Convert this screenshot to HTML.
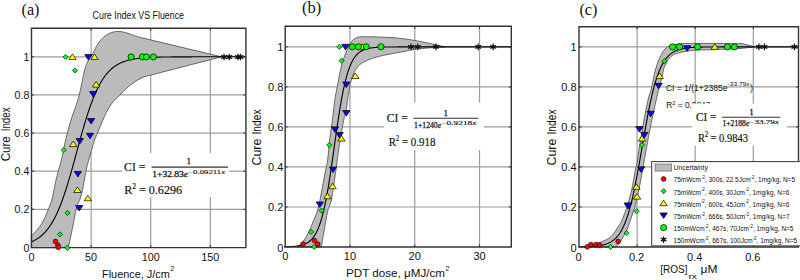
<!DOCTYPE html>
<html><head><meta charset="utf-8"><style>
html,body{margin:0;padding:0;background:#fff;overflow:hidden}
svg{display:block}
text{fill:#111}
</style></head><body>
<svg width="800" height="280" viewBox="0 0 800 280">
<rect width="800" height="280" fill="#fff"/>
<line x1="91.1" y1="28.3" x2="91.1" y2="247.6" stroke="#9c9c9c" stroke-width="1.2"/>
<line x1="150.7" y1="28.3" x2="150.7" y2="247.6" stroke="#9c9c9c" stroke-width="1.2"/>
<line x1="210.3" y1="28.3" x2="210.3" y2="247.6" stroke="#9c9c9c" stroke-width="1.2"/>
<line x1="31.5" y1="209.28" x2="245.9" y2="209.28" stroke="#9c9c9c" stroke-width="1.2"/>
<line x1="31.5" y1="171.16" x2="245.9" y2="171.16" stroke="#9c9c9c" stroke-width="1.2"/>
<line x1="31.5" y1="133.04" x2="245.9" y2="133.04" stroke="#9c9c9c" stroke-width="1.2"/>
<line x1="31.5" y1="94.92" x2="245.9" y2="94.92" stroke="#9c9c9c" stroke-width="1.2"/>
<line x1="31.5" y1="56.8" x2="245.9" y2="56.8" stroke="#9c9c9c" stroke-width="1.2"/>
<path d="M30.5,236.3 C30.9,235.97 31.8,235.35 32.9,234.3 C34,233.25 35.68,231.67 37.1,230 C38.52,228.33 39.97,226.68 41.4,224.3 C42.83,221.92 44.5,218.32 45.7,215.7 C46.9,213.08 47.65,210.98 48.6,208.6 C49.55,206.22 50.6,204.02 51.4,201.4 C52.2,198.78 52.68,196.23 53.4,192.9 C54.12,189.57 54.83,185.22 55.7,181.4 C56.57,177.58 57.65,173.57 58.6,170 C59.55,166.43 60.42,164.17 61.4,160 C62.38,155.83 63.48,149.58 64.5,145 C65.52,140.42 66.42,136.67 67.5,132.5 C68.58,128.33 69.83,123.75 71,120 C72.17,116.25 73.3,113.52 74.5,110 C75.7,106.48 77.03,103.07 78.2,98.9 C79.37,94.73 80.43,89.82 81.5,85 C82.57,80.18 83.43,74.17 84.6,70 C85.77,65.83 87.07,62.85 88.5,60 C89.93,57.15 91.88,55.17 93.2,52.9 C94.52,50.63 95.15,48.55 96.4,46.4 C97.65,44.25 99.08,41.87 100.7,40 C102.32,38.13 104.32,36.45 106.1,35.2 C107.88,33.95 109.43,33.13 111.4,32.5 C113.37,31.87 115.57,31.4 117.9,31.4 C120.23,31.4 122.9,31.87 125.4,32.5 C127.9,33.13 130.3,34.35 132.9,35.2 C135.5,36.05 139.65,37.2 141,37.6 L221.5,56.8 L150,75.3 C148.67,75.7 144.68,76.5 142,77.7 C139.32,78.9 136.58,80.63 133.9,82.5 C131.22,84.37 128.3,86.75 125.9,88.9 C123.5,91.05 121.65,93.25 119.5,95.4 C117.35,97.55 114.87,99.53 113,101.8 C111.13,104.07 109.78,106.43 108.3,109 C106.82,111.57 105.62,113.87 104.1,117.2 C102.58,120.53 100.78,125.2 99.2,129 C97.62,132.8 95.9,136.38 94.6,140 C93.3,143.62 92.65,146.42 91.4,150.7 C90.15,154.98 88.17,161.42 87.1,165.7 C86.03,169.98 85.7,172.68 85,176.4 C84.3,180.12 83.67,184.4 82.9,188 C82.13,191.6 81.42,194.83 80.4,198 C79.38,201.17 77.87,203.25 76.8,207 C75.73,210.75 74.93,215.95 74,220.5 C73.07,225.05 72.08,230.05 71.2,234.3 C70.32,238.55 69.18,243.67 68.7,246 C68.22,248.33 68.37,247.92 68.3,248.3 L30.5,248.3Z" fill="#bbbbbb"/>
<path d="M30.5,236.3 C30.9,235.97 31.8,235.35 32.9,234.3 C34,233.25 35.68,231.67 37.1,230 C38.52,228.33 39.97,226.68 41.4,224.3 C42.83,221.92 44.5,218.32 45.7,215.7 C46.9,213.08 47.65,210.98 48.6,208.6 C49.55,206.22 50.6,204.02 51.4,201.4 C52.2,198.78 52.68,196.23 53.4,192.9 C54.12,189.57 54.83,185.22 55.7,181.4 C56.57,177.58 57.65,173.57 58.6,170 C59.55,166.43 60.42,164.17 61.4,160 C62.38,155.83 63.48,149.58 64.5,145 C65.52,140.42 66.42,136.67 67.5,132.5 C68.58,128.33 69.83,123.75 71,120 C72.17,116.25 73.3,113.52 74.5,110 C75.7,106.48 77.03,103.07 78.2,98.9 C79.37,94.73 80.43,89.82 81.5,85 C82.57,80.18 83.43,74.17 84.6,70 C85.77,65.83 87.07,62.85 88.5,60 C89.93,57.15 91.88,55.17 93.2,52.9 C94.52,50.63 95.15,48.55 96.4,46.4 C97.65,44.25 99.08,41.87 100.7,40 C102.32,38.13 104.32,36.45 106.1,35.2 C107.88,33.95 109.43,33.13 111.4,32.5 C113.37,31.87 115.57,31.4 117.9,31.4 C120.23,31.4 122.9,31.87 125.4,32.5 C127.9,33.13 130.3,34.35 132.9,35.2 C135.5,36.05 139.65,37.2 141,37.6 L221.5,56.8 L150,75.3 C148.67,75.7 144.68,76.5 142,77.7 C139.32,78.9 136.58,80.63 133.9,82.5 C131.22,84.37 128.3,86.75 125.9,88.9 C123.5,91.05 121.65,93.25 119.5,95.4 C117.35,97.55 114.87,99.53 113,101.8 C111.13,104.07 109.78,106.43 108.3,109 C106.82,111.57 105.62,113.87 104.1,117.2 C102.58,120.53 100.78,125.2 99.2,129 C97.62,132.8 95.9,136.38 94.6,140 C93.3,143.62 92.65,146.42 91.4,150.7 C90.15,154.98 88.17,161.42 87.1,165.7 C86.03,169.98 85.7,172.68 85,176.4 C84.3,180.12 83.67,184.4 82.9,188 C82.13,191.6 81.42,194.83 80.4,198 C79.38,201.17 77.87,203.25 76.8,207 C75.73,210.75 74.93,215.95 74,220.5 C73.07,225.05 72.08,230.05 71.2,234.3 C70.32,238.55 69.18,243.67 68.7,246 C68.22,248.33 68.37,247.92 68.3,248.3" fill="none" stroke="#4a4a4a" stroke-width="0.8"/>
<path d="M31.5,241.77 L32.1,241.51 L32.69,241.24 L33.29,240.96 L33.88,240.67 L34.48,240.36 L35.08,240.04 L35.67,239.71 L36.27,239.36 L36.86,239 L37.46,238.62 L38.06,238.23 L38.65,237.82 L39.25,237.39 L39.84,236.94 L40.44,236.48 L41.04,236 L41.63,235.49 L42.23,234.97 L42.82,234.42 L43.42,233.85 L44.02,233.26 L44.61,232.65 L45.21,232.01 L45.8,231.34 L46.4,230.65 L47,229.94 L47.59,229.19 L48.19,228.42 L48.78,227.62 L49.38,226.79 L49.98,225.92 L50.57,225.03 L51.17,224.1 L51.76,223.15 L52.36,222.15 L52.96,221.13 L53.55,220.07 L54.15,218.97 L54.74,217.84 L55.34,216.67 L55.94,215.46 L56.53,214.22 L57.13,212.94 L57.72,211.62 L58.32,210.26 L58.92,208.87 L59.51,207.43 L60.11,205.96 L60.7,204.44 L61.3,202.89 L61.9,201.3 L62.49,199.67 L63.09,198.01 L63.68,196.3 L64.28,194.56 L64.88,192.79 L65.47,190.97 L66.07,189.13 L66.66,187.25 L67.26,185.34 L67.86,183.39 L68.45,181.42 L69.05,179.42 L69.64,177.39 L70.24,175.34 L70.84,173.27 L71.43,171.17 L72.03,169.05 L72.62,166.92 L73.22,164.77 L73.82,162.61 L74.41,160.44 L75.01,158.25 L75.6,156.07 L76.2,153.87 L76.8,151.68 L77.39,149.49 L77.99,147.29 L78.58,145.11 L79.18,142.93 L79.78,140.76 L80.37,138.6 L80.97,136.46 L81.56,134.33 L82.16,132.22 L82.76,130.14 L83.35,128.07 L83.95,126.03 L84.54,124.01 L85.14,122.02 L85.74,120.06 L86.33,118.13 L86.93,116.23 L87.52,114.36 L88.12,112.53 L88.72,110.73 L89.31,108.96 L89.91,107.24 L90.5,105.55 L91.1,103.9 L91.7,102.28 L92.29,100.71 L92.89,99.17 L93.48,97.67 L94.08,96.21 L94.68,94.79 L95.27,93.41 L95.87,92.07 L96.46,90.76 L97.06,89.5 L97.66,88.27 L98.25,87.08 L98.85,85.92 L99.44,84.8 L100.04,83.72 L100.64,82.67 L101.23,81.66 L101.83,80.68 L102.42,79.74 L103.02,78.82 L103.62,77.94 L104.21,77.09 L104.81,76.27 L105.4,75.48 L106,74.72 L106.6,73.99 L107.19,73.28 L107.79,72.6 L108.38,71.94 L108.98,71.31 L109.58,70.71 L110.17,70.13 L110.77,69.57 L111.36,69.03 L111.96,68.51 L112.56,68.02 L113.15,67.54 L113.75,67.08 L114.34,66.64 L114.94,66.22 L115.54,65.82 L116.13,65.43 L116.73,65.06 L117.32,64.7 L117.92,64.36 L118.52,64.03 L119.11,63.72 L119.71,63.42 L120.3,63.13 L120.9,62.86 L121.5,62.59 L122.09,62.34 L122.69,62.1 L123.28,61.86 L123.88,61.64 L124.48,61.43 L125.07,61.23 L125.67,61.03 L126.26,60.84 L126.86,60.67 L127.46,60.5 L128.05,60.33 L128.65,60.18 L129.24,60.03 L129.84,59.88 L130.44,59.75 L131.03,59.62 L131.63,59.49 L132.22,59.37 L132.82,59.26 L133.42,59.15 L134.01,59.04 L134.61,58.94 L135.2,58.85 L135.8,58.76 L136.4,58.67 L136.99,58.59 L137.59,58.51 L138.18,58.43 L138.78,58.36 L139.38,58.29 L139.97,58.22 L140.57,58.16 L141.16,58.1 L141.76,58.04 L142.36,57.98 L142.95,57.93 L143.55,57.88 L144.14,57.83 L144.74,57.79 L145.34,57.74 L145.93,57.7 L146.53,57.66 L147.12,57.62 L147.72,57.58 L148.32,57.55 L148.91,57.52 L149.51,57.48 L150.1,57.45 L150.7,57.42 L151.3,57.4 L151.89,57.37 L152.49,57.34 L153.08,57.32 L153.68,57.3 L154.28,57.27 L154.87,57.25 L155.47,57.23 L156.06,57.21 L156.66,57.19 L157.26,57.18 L157.85,57.16 L158.45,57.14 L159.04,57.13 L159.64,57.11 L160.24,57.1 L160.83,57.09 L161.43,57.07 L162.02,57.06 L162.62,57.05 L163.22,57.04 L163.81,57.03 L164.41,57.02 L165,57.01 L165.6,57 L166.2,56.99 L166.79,56.98 L167.39,56.97 L167.98,56.96 L168.58,56.96 L169.18,56.95 L169.77,56.94 L170.37,56.94 L170.96,56.93 L171.56,56.92 L172.16,56.92 L172.75,56.91 L173.35,56.91 L173.94,56.9 L174.54,56.9 L175.14,56.89 L175.73,56.89 L176.33,56.89 L176.92,56.88 L177.52,56.88 L178.12,56.88 L178.71,56.87 L179.31,56.87 L179.9,56.87 L180.5,56.86 L181.1,56.86 L181.69,56.86 L182.29,56.85 L182.88,56.85 L183.48,56.85 L184.08,56.85 L184.67,56.85 L185.27,56.84 L185.86,56.84 L186.46,56.84 L187.06,56.84 L187.65,56.84 L188.25,56.83 L188.84,56.83 L189.44,56.83 L190.04,56.83 L190.63,56.83 L191.23,56.83 L191.82,56.83 L192.42,56.82 L193.02,56.82 L193.61,56.82 L194.21,56.82 L194.8,56.82 L195.4,56.82 L196,56.82 L196.59,56.82 L197.19,56.82 L197.78,56.82 L198.38,56.82 L198.98,56.81 L199.57,56.81 L200.17,56.81 L200.76,56.81 L201.36,56.81 L201.96,56.81 L202.55,56.81 L203.15,56.81 L203.74,56.81 L204.34,56.81 L204.94,56.81 L205.53,56.81 L206.13,56.81 L206.72,56.81 L207.32,56.81 L207.92,56.81 L208.51,56.81 L209.11,56.81 L209.7,56.81 L210.3,56.81 L210.9,56.81 L211.49,56.81 L212.09,56.81 L212.68,56.81 L213.28,56.8 L213.88,56.8 L214.47,56.8 L215.07,56.8 L215.66,56.8 L216.26,56.8 L216.86,56.8 L217.45,56.8 L218.05,56.8 L218.64,56.8 L219.24,56.8 L219.84,56.8 L220.43,56.8 L221.03,56.8 L221.62,56.8 L222.22,56.8 L245.9,56.8" fill="none" stroke="#000" stroke-width="1.1"/>
<path d="M31.5,247.6 L31.5,28.3 L245.9,28.3 L245.9,247.6" fill="none" stroke="#333333" stroke-width="1.4"/>
<line x1="30.85" y1="247.6" x2="246.55" y2="247.6" stroke="#333333" stroke-width="1.3"/>
<line x1="91.1" y1="247.6" x2="91.1" y2="245.1" stroke="#333333" stroke-width="1"/>
<line x1="91.1" y1="28.3" x2="91.1" y2="30.8" stroke="#333333" stroke-width="1"/>
<line x1="150.7" y1="247.6" x2="150.7" y2="245.1" stroke="#333333" stroke-width="1"/>
<line x1="150.7" y1="28.3" x2="150.7" y2="30.8" stroke="#333333" stroke-width="1"/>
<line x1="210.3" y1="247.6" x2="210.3" y2="245.1" stroke="#333333" stroke-width="1"/>
<line x1="210.3" y1="28.3" x2="210.3" y2="30.8" stroke="#333333" stroke-width="1"/>
<line x1="31.5" y1="209.28" x2="34" y2="209.28" stroke="#333333" stroke-width="1"/>
<line x1="245.9" y1="209.28" x2="243.4" y2="209.28" stroke="#333333" stroke-width="1"/>
<line x1="31.5" y1="171.16" x2="34" y2="171.16" stroke="#333333" stroke-width="1"/>
<line x1="245.9" y1="171.16" x2="243.4" y2="171.16" stroke="#333333" stroke-width="1"/>
<line x1="31.5" y1="133.04" x2="34" y2="133.04" stroke="#333333" stroke-width="1"/>
<line x1="245.9" y1="133.04" x2="243.4" y2="133.04" stroke="#333333" stroke-width="1"/>
<line x1="31.5" y1="94.92" x2="34" y2="94.92" stroke="#333333" stroke-width="1"/>
<line x1="245.9" y1="94.92" x2="243.4" y2="94.92" stroke="#333333" stroke-width="1"/>
<line x1="31.5" y1="56.8" x2="34" y2="56.8" stroke="#333333" stroke-width="1"/>
<line x1="245.9" y1="56.8" x2="243.4" y2="56.8" stroke="#333333" stroke-width="1"/>
<rect x="122" y="153" width="107" height="44" fill="#fff"/>
<path d="M65.7,54.4 L68.3,57 L65.7,59.6 L63.1,57Z" fill="#00ff00" stroke="#000" stroke-width="0.6"/>
<path d="M72.5,53.9 L76.2,59.48 L68.8,59.48Z" fill="#ffff00" stroke="#000" stroke-width="0.7"/>
<path d="M88.4,60.1 L92.1,54.52 L84.7,54.52Z" fill="#0000ff" stroke="#000" stroke-width="0.7"/>
<path d="M94.6,53.9 L98.3,59.48 L90.9,59.48Z" fill="#ffff00" stroke="#000" stroke-width="0.7"/>
<path d="M75,67.8 L77.6,70.4 L75,73 L72.4,70.4Z" fill="#00ff00" stroke="#000" stroke-width="0.6"/>
<path d="M96.1,81.5 L99.8,87.08 L92.4,87.08Z" fill="#ffff00" stroke="#000" stroke-width="0.7"/>
<path d="M93.2,97.1 L96.9,91.52 L89.5,91.52Z" fill="#0000ff" stroke="#000" stroke-width="0.7"/>
<path d="M91.1,124.1 L94.8,118.52 L87.4,118.52Z" fill="#0000ff" stroke="#000" stroke-width="0.7"/>
<path d="M90,138.8 L93.7,133.22 L86.3,133.22Z" fill="#0000ff" stroke="#000" stroke-width="0.7"/>
<path d="M79.8,144.1 L83.5,138.52 L76.1,138.52Z" fill="#0000ff" stroke="#000" stroke-width="0.7"/>
<path d="M73.2,141 L76.9,146.58 L69.5,146.58Z" fill="#ffff00" stroke="#000" stroke-width="0.7"/>
<path d="M63.75,147.4 L66.35,150 L63.75,152.6 L61.15,150Z" fill="#00ff00" stroke="#000" stroke-width="0.6"/>
<path d="M77.9,177 L81.6,171.42 L74.2,171.42Z" fill="#0000ff" stroke="#000" stroke-width="0.7"/>
<path d="M77.4,186.9 L81.1,192.48 L73.7,192.48Z" fill="#ffff00" stroke="#000" stroke-width="0.7"/>
<path d="M87.9,195.2 L91.6,200.78 L84.2,200.78Z" fill="#ffff00" stroke="#000" stroke-width="0.7"/>
<path d="M79.25,211.1 L82.95,205.52 L75.55,205.52Z" fill="#0000ff" stroke="#000" stroke-width="0.7"/>
<path d="M67.5,210.4 L70.1,213 L67.5,215.6 L64.9,213Z" fill="#00ff00" stroke="#000" stroke-width="0.6"/>
<path d="M60,231.8 L62.6,234.4 L60,237 L57.4,234.4Z" fill="#00ff00" stroke="#000" stroke-width="0.6"/>
<circle cx="55.5" cy="241.5" r="2.4" fill="#ff0000" stroke="#000" stroke-width="0.6"/>
<circle cx="57.9" cy="245.1" r="2.4" fill="#ff0000" stroke="#000" stroke-width="0.6"/>
<circle cx="58.2" cy="247.3" r="2.4" fill="#ff0000" stroke="#000" stroke-width="0.6"/>
<path d="M67.4,245.2 L70,247.8 L67.4,250.4 L64.8,247.8Z" fill="#00ff00" stroke="#000" stroke-width="0.6"/>
<circle cx="131.1" cy="56.9" r="3.1" fill="#00ff00" stroke="#000" stroke-width="0.7"/>
<circle cx="142.4" cy="56.9" r="3.1" fill="#00ff00" stroke="#000" stroke-width="0.7"/>
<circle cx="146.4" cy="56.9" r="3.1" fill="#00ff00" stroke="#000" stroke-width="0.7"/>
<circle cx="153.4" cy="56.9" r="3.1" fill="#00ff00" stroke="#000" stroke-width="0.7"/>
<path d="M224,53.7 L224,60.3 M226.86,55.35 L221.14,58.65 M226.86,58.65 L221.14,55.35" stroke="#111" stroke-width="1.2" fill="none"/><circle cx="224" cy="57" r="1.7" fill="#111"/>
<path d="M229.3,53.7 L229.3,60.3 M232.16,55.35 L226.44,58.65 M232.16,58.65 L226.44,55.35" stroke="#111" stroke-width="1.2" fill="none"/><circle cx="229.3" cy="57" r="1.7" fill="#111"/>
<path d="M238,53.7 L238,60.3 M240.86,55.35 L235.14,58.65 M240.86,58.65 L235.14,55.35" stroke="#111" stroke-width="1.2" fill="none"/><circle cx="238" cy="57" r="1.7" fill="#111"/>
<path d="M240.5,53.7 L240.5,60.3 M243.36,55.35 L237.64,58.65 M243.36,58.65 L237.64,55.35" stroke="#111" stroke-width="1.2" fill="none"/><circle cx="240.5" cy="57" r="1.7" fill="#111"/>
<line x1="349.97" y1="26.3" x2="349.97" y2="247" stroke="#9c9c9c" stroke-width="1.2"/>
<line x1="414.74" y1="26.3" x2="414.74" y2="247" stroke="#9c9c9c" stroke-width="1.2"/>
<line x1="479.51" y1="26.3" x2="479.51" y2="247" stroke="#9c9c9c" stroke-width="1.2"/>
<line x1="285.2" y1="206.98" x2="511.3" y2="206.98" stroke="#9c9c9c" stroke-width="1.2"/>
<line x1="285.2" y1="166.96" x2="511.3" y2="166.96" stroke="#9c9c9c" stroke-width="1.2"/>
<line x1="285.2" y1="126.94" x2="511.3" y2="126.94" stroke="#9c9c9c" stroke-width="1.2"/>
<line x1="285.2" y1="86.92" x2="511.3" y2="86.92" stroke="#9c9c9c" stroke-width="1.2"/>
<line x1="285.2" y1="46.9" x2="511.3" y2="46.9" stroke="#9c9c9c" stroke-width="1.2"/>
<path d="M297,247 C297.83,246.33 300.23,245.12 302,243 C303.77,240.88 305.77,237.8 307.6,234.3 C309.43,230.8 311.27,226.22 313,222 C314.73,217.78 316.58,214 318,209 C319.42,204 320.42,197.5 321.5,192 C322.58,186.5 323.48,181.33 324.5,176 C325.52,170.67 326.75,166 327.6,160 C328.45,154 328.8,146.67 329.6,140 C330.4,133.33 331.53,126.67 332.4,120 C333.27,113.33 334,105.5 334.8,100 C335.6,94.5 336.42,91.17 337.2,87 C337.98,82.83 338.7,78.9 339.5,75 C340.3,71.1 340.85,67.52 342,63.6 C343.15,59.68 344.82,55.18 346.4,51.5 C347.98,47.82 349.58,43.88 351.5,41.5 C353.42,39.12 355.15,37.98 357.9,37.2 C360.65,36.42 364.32,36.82 368,36.8 C371.68,36.78 375.08,36.9 380,37.1 C384.92,37.3 391.67,37.43 397.5,38 C403.33,38.57 409.17,39.5 415,40.5 C420.83,41.5 429.58,43.42 432.5,44 L444.8,46.9 L432.5,47.6 C429.58,47.88 419.58,48.68 415,49.3 C410.42,49.92 408.33,50.67 405,51.3 C401.67,51.93 398.33,52.48 395,53.1 C391.67,53.72 388.33,54.27 385,55 C381.67,55.73 378.33,56.43 375,57.5 C371.67,58.57 367.73,60.03 365,61.4 C362.27,62.77 360.38,63.92 358.6,65.7 C356.82,67.48 355.55,69.6 354.3,72.1 C353.05,74.6 351.88,78.2 351.1,80.7 C350.32,83.2 350.13,84.23 349.6,87.1 C349.07,89.97 348.55,93.6 347.9,97.9 C347.25,102.2 346.47,108.88 345.7,112.9 C344.93,116.92 344.48,115.82 343.3,122 C342.12,128.18 339.75,142.55 338.6,150 C337.45,157.45 337.6,158.37 336.4,166.7 C335.2,175.03 332.88,192.45 331.4,200 C329.92,207.55 329.18,204.17 327.5,212 C325.82,219.83 322.33,241.17 321.3,247Z" fill="#bbbbbb" stroke="#4a4a4a" stroke-width="0.8"/>
<path d="M284.2,246.84 L284.52,246.83 L284.85,246.82 L285.17,246.81 L285.5,246.81 L285.82,246.8 L286.14,246.79 L286.47,246.78 L286.79,246.77 L287.11,246.76 L287.44,246.74 L287.76,246.73 L288.09,246.72 L288.41,246.71 L288.73,246.69 L289.06,246.68 L289.38,246.66 L289.71,246.65 L290.03,246.63 L290.35,246.61 L290.68,246.6 L291,246.58 L291.32,246.56 L291.65,246.54 L291.97,246.51 L292.3,246.49 L292.62,246.47 L292.94,246.44 L293.27,246.42 L293.59,246.39 L293.92,246.36 L294.24,246.33 L294.56,246.3 L294.89,246.26 L295.21,246.23 L295.53,246.19 L295.86,246.16 L296.18,246.12 L296.51,246.07 L296.83,246.03 L297.15,245.99 L297.48,245.94 L297.8,245.89 L298.13,245.84 L298.45,245.78 L298.77,245.72 L299.1,245.66 L299.42,245.6 L299.74,245.54 L300.07,245.47 L300.39,245.4 L300.72,245.32 L301.04,245.24 L301.36,245.16 L301.69,245.07 L302.01,244.98 L302.34,244.89 L302.66,244.79 L302.98,244.69 L303.31,244.58 L303.63,244.47 L303.95,244.35 L304.28,244.23 L304.6,244.1 L304.93,243.96 L305.25,243.82 L305.57,243.68 L305.9,243.52 L306.22,243.36 L306.55,243.19 L306.87,243.02 L307.19,242.83 L307.52,242.64 L307.84,242.44 L308.16,242.23 L308.49,242.01 L308.81,241.78 L309.14,241.54 L309.46,241.29 L309.78,241.03 L310.11,240.76 L310.43,240.47 L310.76,240.17 L311.08,239.86 L311.4,239.54 L311.73,239.2 L312.05,238.85 L312.37,238.48 L312.7,238.1 L313.02,237.7 L313.35,237.28 L313.67,236.84 L313.99,236.39 L314.32,235.92 L314.64,235.43 L314.97,234.91 L315.29,234.38 L315.61,233.82 L315.94,233.24 L316.26,232.64 L316.58,232.01 L316.91,231.36 L317.23,230.69 L317.56,229.98 L317.88,229.25 L318.2,228.49 L318.53,227.7 L318.85,226.88 L319.18,226.03 L319.5,225.15 L319.82,224.24 L320.15,223.29 L320.47,222.31 L320.8,221.3 L321.12,220.25 L321.44,219.16 L321.77,218.04 L322.09,216.88 L322.41,215.68 L322.74,214.44 L323.06,213.16 L323.39,211.85 L323.71,210.49 L324.03,209.1 L324.36,207.66 L324.68,206.18 L325.01,204.67 L325.33,203.11 L325.65,201.51 L325.98,199.87 L326.3,198.19 L326.62,196.47 L326.95,194.7 L327.27,192.9 L327.6,191.07 L327.92,189.19 L328.24,187.28 L328.57,185.33 L328.89,183.35 L329.22,181.33 L329.54,179.28 L329.86,177.2 L330.19,175.09 L330.51,172.95 L330.83,170.79 L331.16,168.6 L331.48,166.4 L331.81,164.17 L332.13,161.92 L332.45,159.66 L332.78,157.39 L333.1,155.1 L333.43,152.81 L333.75,150.51 L334.07,148.2 L334.4,145.9 L334.72,143.59 L335.04,141.29 L335.37,139 L335.69,136.71 L336.02,134.43 L336.34,132.17 L336.66,129.92 L336.99,127.69 L337.31,125.48 L337.64,123.29 L337.96,121.13 L338.28,118.99 L338.61,116.88 L338.93,114.8 L339.25,112.75 L339.58,110.73 L339.9,108.74 L340.23,106.79 L340.55,104.87 L340.87,102.99 L341.2,101.15 L341.52,99.35 L341.85,97.58 L342.17,95.86 L342.49,94.17 L342.82,92.53 L343.14,90.93 L343.46,89.36 L343.79,87.84 L344.11,86.36 L344.44,84.92 L344.76,83.52 L345.08,82.17 L345.41,80.85 L345.73,79.57 L346.06,78.33 L346.38,77.12 L346.7,75.96 L347.03,74.83 L347.35,73.75 L347.67,72.69 L348,71.67 L348.32,70.69 L348.65,69.74 L348.97,68.83 L349.29,67.94 L349.62,67.09 L349.94,66.27 L350.27,65.48 L350.59,64.71 L350.91,63.98 L351.24,63.27 L351.56,62.59 L351.88,61.94 L352.21,61.31 L352.53,60.71 L352.86,60.13 L353.18,59.57 L353.5,59.03 L353.83,58.52 L354.15,58.02 L354.48,57.55 L354.8,57.09 L355.12,56.66 L355.45,56.24 L355.77,55.84 L356.09,55.45 L356.42,55.08 L356.74,54.73 L357.07,54.39 L357.39,54.06 L357.71,53.75 L358.04,53.45 L358.36,53.17 L358.69,52.89 L359.01,52.63 L359.33,52.38 L359.66,52.14 L359.98,51.91 L360.3,51.69 L360.63,51.48 L360.95,51.28 L361.28,51.08 L361.6,50.9 L361.92,50.72 L362.25,50.55 L362.57,50.39 L362.9,50.24 L363.22,50.09 L363.54,49.95 L363.87,49.81 L364.19,49.68 L364.51,49.56 L364.84,49.44 L365.16,49.33 L365.49,49.22 L365.81,49.12 L366.13,49.02 L366.46,48.92 L366.78,48.83 L367.11,48.75 L367.43,48.66 L367.75,48.59 L368.08,48.51 L368.4,48.44 L368.72,48.37 L369.05,48.3 L369.37,48.24 L369.7,48.18 L370.02,48.12 L370.34,48.07 L370.67,48.02 L370.99,47.97 L371.32,47.92 L371.64,47.87 L371.96,47.83 L372.29,47.79 L372.61,47.75 L372.93,47.71 L373.26,47.67 L373.58,47.64 L373.91,47.61 L374.23,47.57 L374.55,47.54 L374.88,47.51 L375.2,47.49 L375.53,47.46 L375.85,47.44 L376.17,47.41 L376.5,47.39 L376.82,47.37 L377.14,47.35 L377.47,47.33 L377.79,47.31 L378.12,47.29 L378.44,47.27 L378.76,47.25 L379.09,47.24 L379.41,47.22 L379.74,47.21 L380.06,47.19 L380.38,47.18 L380.71,47.17 L381.03,47.16 L381.36,47.14 L381.68,47.13 L382,47.12 L382.33,47.11 L382.65,47.1 L382.97,47.09 L383.3,47.09 L383.62,47.08 L383.95,47.07 L384.27,47.06 L384.59,47.05 L384.92,47.05 L385.24,47.04 L385.57,47.03 L385.89,47.03 L386.21,47.02 L386.54,47.02 L386.86,47.01 L387.18,47.01 L387.51,47 L387.83,47 L388.16,46.99 L388.48,46.99 L388.8,46.98 L389.13,46.98 L389.45,46.98 L389.78,46.97 L390.1,46.97 L390.42,46.97 L390.75,46.96 L391.07,46.96 L391.39,46.96 L391.72,46.96 L392.04,46.95 L392.37,46.95 L392.69,46.95 L393.01,46.95 L393.34,46.94 L393.66,46.94 L393.99,46.94 L394.31,46.94 L394.63,46.94 L394.96,46.94 L395.28,46.93 L395.6,46.93 L395.93,46.93 L396.25,46.93 L396.58,46.93 L396.9,46.93 L397.22,46.93 L397.55,46.92 L397.87,46.92 L398.2,46.92 L398.52,46.92 L398.84,46.92 L399.17,46.92 L399.49,46.92 L399.81,46.92 L400.14,46.92 L400.46,46.92 L400.79,46.92 L401.11,46.91 L401.43,46.91 L401.76,46.91 L402.08,46.91 L402.41,46.91 L402.73,46.91 L403.05,46.91 L403.38,46.91 L403.7,46.91 L404.02,46.91 L404.35,46.91 L404.67,46.91 L405,46.91 L405.32,46.91 L405.64,46.91 L405.97,46.91 L406.29,46.91 L406.62,46.91 L406.94,46.91 L407.26,46.91 L407.59,46.91 L407.91,46.91 L408.23,46.91 L408.56,46.91 L408.88,46.9 L409.21,46.9 L409.53,46.9 L409.85,46.9 L410.18,46.9 L410.5,46.9 L410.83,46.9 L411.15,46.9 L411.47,46.9 L411.8,46.9 L412.12,46.9 L412.44,46.9 L412.77,46.9 L413.09,46.9 L413.42,46.9 L413.74,46.9 L414.06,46.9 L414.39,46.9 L414.71,46.9 L415.04,46.9 L415.36,46.9 L415.68,46.9 L416.01,46.9 L416.33,46.9 L416.65,46.9 L416.98,46.9 L417.3,46.9 L417.63,46.9 L417.95,46.9 L418.27,46.9 L418.6,46.9 L418.92,46.9 L419.25,46.9 L419.57,46.9 L419.89,46.9 L420.22,46.9 L420.54,46.9 L420.86,46.9 L421.19,46.9 L421.51,46.9 L421.84,46.9 L422.16,46.9 L422.48,46.9 L422.81,46.9 L423.13,46.9 L423.46,46.9 L423.78,46.9 L424.1,46.9 L424.43,46.9 L424.75,46.9 L425.07,46.9 L425.4,46.9 L425.72,46.9 L426.05,46.9 L426.37,46.9 L426.69,46.9 L427.02,46.9 L427.34,46.9 L427.67,46.9 L427.99,46.9 L428.31,46.9 L428.64,46.9 L428.96,46.9 L429.28,46.9 L429.61,46.9 L429.93,46.9 L430.26,46.9 L430.58,46.9 L430.9,46.9 L431.23,46.9 L431.55,46.9 L431.88,46.9 L432.2,46.9 L432.52,46.9 L432.85,46.9 L433.17,46.9 L433.49,46.9 L433.82,46.9 L434.14,46.9 L434.47,46.9 L434.79,46.9 L435.11,46.9 L435.44,46.9 L435.76,46.9 L436.09,46.9 L436.41,46.9 L436.73,46.9 L437.06,46.9 L437.38,46.9 L437.7,46.9 L438.03,46.9 L438.35,46.9 L438.68,46.9 L439,46.9 L439.32,46.9 L511.3,46.9" fill="none" stroke="#000" stroke-width="1.1"/>
<path d="M285.2,247 L285.2,26.3 L511.3,26.3 L511.3,247" fill="none" stroke="#333333" stroke-width="1.4"/>
<line x1="284.55" y1="247" x2="511.95" y2="247" stroke="#333333" stroke-width="1.3"/>
<line x1="349.97" y1="247" x2="349.97" y2="244.5" stroke="#333333" stroke-width="1"/>
<line x1="349.97" y1="26.3" x2="349.97" y2="28.8" stroke="#333333" stroke-width="1"/>
<line x1="414.74" y1="247" x2="414.74" y2="244.5" stroke="#333333" stroke-width="1"/>
<line x1="414.74" y1="26.3" x2="414.74" y2="28.8" stroke="#333333" stroke-width="1"/>
<line x1="479.51" y1="247" x2="479.51" y2="244.5" stroke="#333333" stroke-width="1"/>
<line x1="479.51" y1="26.3" x2="479.51" y2="28.8" stroke="#333333" stroke-width="1"/>
<line x1="285.2" y1="206.98" x2="287.7" y2="206.98" stroke="#333333" stroke-width="1"/>
<line x1="511.3" y1="206.98" x2="508.8" y2="206.98" stroke="#333333" stroke-width="1"/>
<line x1="285.2" y1="166.96" x2="287.7" y2="166.96" stroke="#333333" stroke-width="1"/>
<line x1="511.3" y1="166.96" x2="508.8" y2="166.96" stroke="#333333" stroke-width="1"/>
<line x1="285.2" y1="126.94" x2="287.7" y2="126.94" stroke="#333333" stroke-width="1"/>
<line x1="511.3" y1="126.94" x2="508.8" y2="126.94" stroke="#333333" stroke-width="1"/>
<line x1="285.2" y1="86.92" x2="287.7" y2="86.92" stroke="#333333" stroke-width="1"/>
<line x1="511.3" y1="86.92" x2="508.8" y2="86.92" stroke="#333333" stroke-width="1"/>
<line x1="285.2" y1="46.9" x2="287.7" y2="46.9" stroke="#333333" stroke-width="1"/>
<line x1="511.3" y1="46.9" x2="508.8" y2="46.9" stroke="#333333" stroke-width="1"/>
<rect x="384" y="102.5" width="100" height="47.5" fill="#fff"/>
<path d="M339.4,44.2 L342,46.8 L339.4,49.4 L336.8,46.8Z" fill="#00ff00" stroke="#000" stroke-width="0.6"/>
<path d="M345.5,49.9 L349.2,44.32 L341.8,44.32Z" fill="#0000ff" stroke="#000" stroke-width="0.7"/>
<path d="M362.2,43.7 L365.9,49.28 L358.5,49.28Z" fill="#ffff00" stroke="#000" stroke-width="0.7"/>
<circle cx="352.3" cy="46.8" r="3.1" fill="#00ff00" stroke="#000" stroke-width="0.7"/>
<circle cx="358.4" cy="46.8" r="3.1" fill="#00ff00" stroke="#000" stroke-width="0.7"/>
<circle cx="366.2" cy="46.8" r="3.1" fill="#00ff00" stroke="#000" stroke-width="0.7"/>
<circle cx="380.9" cy="46.8" r="3.1" fill="#00ff00" stroke="#000" stroke-width="0.7"/>
<path d="M411,43.6 L411,50.2 M413.86,45.25 L408.14,48.55 M413.86,48.55 L408.14,45.25" stroke="#111" stroke-width="1.2" fill="none"/><circle cx="411" cy="46.9" r="1.7" fill="#111"/>
<path d="M417.7,43.6 L417.7,50.2 M420.56,45.25 L414.84,48.55 M420.56,48.55 L414.84,45.25" stroke="#111" stroke-width="1.2" fill="none"/><circle cx="417.7" cy="46.9" r="1.7" fill="#111"/>
<path d="M435.9,43.6 L435.9,50.2 M438.76,45.25 L433.04,48.55 M438.76,48.55 L433.04,45.25" stroke="#111" stroke-width="1.2" fill="none"/><circle cx="435.9" cy="46.9" r="1.7" fill="#111"/>
<path d="M478.2,43.6 L478.2,50.2 M481.06,45.25 L475.34,48.55 M481.06,48.55 L475.34,45.25" stroke="#111" stroke-width="1.2" fill="none"/><circle cx="478.2" cy="46.9" r="1.7" fill="#111"/>
<path d="M493.2,43.6 L493.2,50.2 M496.06,45.25 L490.34,48.55 M496.06,48.55 L490.34,45.25" stroke="#111" stroke-width="1.2" fill="none"/><circle cx="493.2" cy="46.9" r="1.7" fill="#111"/>
<path d="M341.6,58.1 L344.2,60.7 L341.6,63.3 L339,60.7Z" fill="#00ff00" stroke="#000" stroke-width="0.6"/>
<path d="M355.3,72.9 L359,78.48 L351.6,78.48Z" fill="#ffff00" stroke="#000" stroke-width="0.7"/>
<path d="M346.3,87.6 L350,82.02 L342.6,82.02Z" fill="#0000ff" stroke="#000" stroke-width="0.7"/>
<path d="M346.3,116.1 L350,110.52 L342.6,110.52Z" fill="#0000ff" stroke="#000" stroke-width="0.7"/>
<path d="M335,132.4 L338.7,126.82 L331.3,126.82Z" fill="#0000ff" stroke="#000" stroke-width="0.7"/>
<path d="M339.6,138.1 L343.3,132.52 L335.9,132.52Z" fill="#0000ff" stroke="#000" stroke-width="0.7"/>
<path d="M341.4,135.5 L345.1,141.08 L337.7,141.08Z" fill="#ffff00" stroke="#000" stroke-width="0.7"/>
<path d="M329.3,142.4 L331.9,145 L329.3,147.6 L326.7,145Z" fill="#00ff00" stroke="#000" stroke-width="0.6"/>
<path d="M333,172.6 L336.7,167.02 L329.3,167.02Z" fill="#0000ff" stroke="#000" stroke-width="0.7"/>
<path d="M332.5,183.15 L336.2,188.73 L328.8,188.73Z" fill="#ffff00" stroke="#000" stroke-width="0.7"/>
<path d="M327.5,193.15 L331.2,198.73 L323.8,198.73Z" fill="#ffff00" stroke="#000" stroke-width="0.7"/>
<path d="M319.8,207.5 L323.5,201.92 L316.1,201.92Z" fill="#0000ff" stroke="#000" stroke-width="0.7"/>
<path d="M321.6,208 L324.2,210.6 L321.6,213.2 L319,210.6Z" fill="#00ff00" stroke="#000" stroke-width="0.6"/>
<path d="M311.1,229.3 L313.7,231.9 L311.1,234.5 L308.5,231.9Z" fill="#00ff00" stroke="#000" stroke-width="0.6"/>
<circle cx="303" cy="244.1" r="2.4" fill="#ff0000" stroke="#000" stroke-width="0.6"/>
<circle cx="314.5" cy="240.6" r="2.4" fill="#ff0000" stroke="#000" stroke-width="0.6"/>
<circle cx="317.8" cy="244.1" r="2.4" fill="#ff0000" stroke="#000" stroke-width="0.6"/>
<path d="M314.1,244.4 L316.7,247 L314.1,249.6 L311.5,247Z" fill="#00ff00" stroke="#000" stroke-width="0.6"/>
<line x1="637.1" y1="26.7" x2="637.1" y2="247" stroke="#9c9c9c" stroke-width="1.2"/>
<line x1="695.2" y1="26.7" x2="695.2" y2="247" stroke="#9c9c9c" stroke-width="1.2"/>
<line x1="753.3" y1="26.7" x2="753.3" y2="247" stroke="#9c9c9c" stroke-width="1.2"/>
<line x1="579" y1="206.98" x2="798.5" y2="206.98" stroke="#9c9c9c" stroke-width="1.2"/>
<line x1="579" y1="166.96" x2="798.5" y2="166.96" stroke="#9c9c9c" stroke-width="1.2"/>
<line x1="579" y1="126.94" x2="798.5" y2="126.94" stroke="#9c9c9c" stroke-width="1.2"/>
<line x1="579" y1="86.92" x2="798.5" y2="86.92" stroke="#9c9c9c" stroke-width="1.2"/>
<line x1="579" y1="46.9" x2="798.5" y2="46.9" stroke="#9c9c9c" stroke-width="1.2"/>
<path d="M584,247 C585.17,246.8 588.83,246.37 591,245.8 C593.17,245.23 595,244.37 597,243.6 C599,242.83 601.07,242.07 603,241.2 C604.93,240.33 606.93,239.52 608.6,238.4 C610.27,237.28 611.6,236.13 613,234.5 C614.4,232.87 615.6,230.77 617,228.6 C618.4,226.43 619.92,224.6 621.4,221.5 C622.88,218.4 624.58,213.75 625.9,210 C627.22,206.25 628.2,203 629.3,199 C630.4,195 631.55,190.5 632.5,186 C633.45,181.5 634.17,176.33 635,172 C635.83,167.67 636.58,165.33 637.5,160 C638.42,154.67 639.42,146.67 640.5,140 C641.58,133.33 642.75,126.67 644,120 C645.25,113.33 646.75,105.33 648,100 C649.25,94.67 650.27,93 651.5,88 C652.73,83 653.87,75.38 655.4,70 C656.93,64.62 658.77,59.45 660.7,55.7 C662.63,51.95 664.13,49.47 667,47.5 C669.87,45.53 672.4,44.58 677.9,43.9 C683.4,43.22 689.32,43.45 700,43.4 C710.68,43.35 735,43.57 742,43.6 L755,46.9 L740,48.5 C735,48.72 717.85,49.48 710,49.8 C702.15,50.12 698.97,49.6 692.9,50.4 C686.83,51.2 678.25,52.1 673.6,54.6 C668.95,57.1 666.97,61.5 665,65.4 C663.03,69.3 662.88,73.9 661.8,78 C660.72,82.1 659.8,84.67 658.5,90 C657.2,95.33 655.45,103.33 654,110 C652.55,116.67 651.27,122.5 649.8,130 C648.33,137.5 646.42,148.33 645.2,155 C643.98,161.67 643.4,165 642.5,170 C641.6,175 640.78,180 639.8,185 C638.82,190 637.58,195.83 636.6,200 C635.62,204.17 634.93,206.67 633.9,210 C632.87,213.33 631.57,216.67 630.4,220 C629.23,223.33 628.02,227.33 626.9,230 C625.78,232.67 624.77,234.08 623.7,236 C622.63,237.92 621.58,239.88 620.5,241.5 C619.42,243.12 618.03,244.78 617.2,245.7 C616.37,246.62 615.78,246.78 615.5,247Z" fill="#bbbbbb" stroke="#4a4a4a" stroke-width="0.8"/>
<path d="M579.49,246.86 L580.07,246.85 L580.65,246.84 L581.23,246.83 L581.81,246.82 L582.39,246.81 L582.97,246.79 L583.55,246.78 L584.13,246.76 L584.72,246.75 L585.3,246.73 L585.88,246.71 L586.46,246.69 L587.04,246.67 L587.62,246.65 L588.2,246.62 L588.78,246.6 L589.36,246.57 L589.94,246.54 L590.52,246.51 L591.11,246.47 L591.69,246.43 L592.27,246.4 L592.85,246.35 L593.43,246.31 L594.01,246.26 L594.59,246.21 L595.17,246.15 L595.75,246.09 L596.34,246.03 L596.92,245.96 L597.5,245.89 L598.08,245.81 L598.66,245.73 L599.24,245.64 L599.82,245.55 L600.4,245.45 L600.98,245.34 L601.56,245.23 L602.14,245.1 L602.73,244.97 L603.31,244.83 L603.89,244.68 L604.47,244.52 L605.05,244.35 L605.63,244.17 L606.21,243.97 L606.79,243.77 L607.37,243.54 L607.96,243.31 L608.54,243.05 L609.12,242.78 L609.7,242.5 L610.28,242.19 L610.86,241.86 L611.44,241.51 L612.02,241.14 L612.6,240.74 L613.18,240.32 L613.76,239.87 L614.35,239.39 L614.93,238.88 L615.51,238.34 L616.09,237.76 L616.67,237.14 L617.25,236.49 L617.83,235.8 L618.41,235.06 L618.99,234.28 L619.58,233.45 L620.16,232.57 L620.74,231.64 L621.32,230.65 L621.9,229.61 L622.48,228.51 L623.06,227.34 L623.64,226.11 L624.22,224.81 L624.8,223.44 L625.38,222 L625.97,220.48 L626.55,218.89 L627.13,217.22 L627.71,215.46 L628.29,213.63 L628.87,211.7 L629.45,209.7 L630.03,207.6 L630.61,205.42 L631.2,203.15 L631.78,200.79 L632.36,198.35 L632.94,195.81 L633.52,193.2 L634.1,190.5 L634.68,187.72 L635.26,184.86 L635.84,181.93 L636.42,178.93 L637,175.86 L637.59,172.73 L638.17,169.55 L638.75,166.32 L639.33,163.04 L639.91,159.73 L640.49,156.39 L641.07,153.03 L641.65,149.66 L642.23,146.28 L642.82,142.9 L643.4,139.53 L643.98,136.18 L644.56,132.85 L645.14,129.56 L645.72,126.3 L646.3,123.08 L646.88,119.92 L647.46,116.82 L648.04,113.78 L648.62,110.8 L649.21,107.9 L649.79,105.07 L650.37,102.32 L650.95,99.66 L651.53,97.07 L652.11,94.58 L652.69,92.17 L653.27,89.84 L653.85,87.61 L654.44,85.46 L655.02,83.4 L655.6,81.43 L656.18,79.54 L656.76,77.73 L657.34,76.01 L657.92,74.37 L658.5,72.81 L659.08,71.32 L659.66,69.91 L660.25,68.57 L660.83,67.3 L661.41,66.09 L661.99,64.95 L662.57,63.87 L663.15,62.85 L663.73,61.89 L664.31,60.98 L664.89,60.12 L665.47,59.31 L666.06,58.54 L666.64,57.82 L667.22,57.15 L667.8,56.51 L668.38,55.91 L668.96,55.35 L669.54,54.82 L670.12,54.32 L670.7,53.85 L671.28,53.41 L671.87,53 L672.45,52.61 L673.03,52.25 L673.61,51.91 L674.19,51.59 L674.77,51.29 L675.35,51.01 L675.93,50.74 L676.51,50.5 L677.09,50.27 L677.68,50.05 L678.26,49.85 L678.84,49.66 L679.42,49.48 L680,49.31 L680.58,49.16 L681.16,49.01 L681.74,48.87 L682.32,48.75 L682.9,48.63 L683.49,48.51 L684.07,48.41 L684.65,48.31 L685.23,48.22 L685.81,48.13 L686.39,48.05 L686.97,47.98 L687.55,47.91 L688.13,47.84 L688.71,47.78 L689.3,47.72 L689.88,47.67 L690.46,47.62 L691.04,47.57 L691.62,47.53 L692.2,47.49 L692.78,47.45 L693.36,47.41 L693.94,47.38 L694.52,47.35 L695.11,47.32 L695.69,47.29 L696.27,47.27 L696.85,47.24 L697.43,47.22 L698.01,47.2 L698.59,47.18 L699.17,47.16 L699.75,47.15 L700.33,47.13 L700.92,47.11 L701.5,47.1 L702.08,47.09 L702.66,47.07 L703.24,47.06 L703.82,47.05 L704.4,47.04 L704.98,47.03 L705.56,47.02 L706.14,47.02 L706.73,47.01 L707.31,47 L707.89,47 L708.47,46.99 L709.05,46.98 L709.63,46.98 L710.21,46.97 L710.79,46.97 L711.37,46.96 L711.95,46.96 L712.54,46.96 L713.12,46.95 L713.7,46.95 L714.28,46.95 L714.86,46.94 L715.44,46.94 L716.02,46.94 L716.6,46.93 L717.18,46.93 L717.76,46.93 L718.35,46.93 L718.93,46.93 L719.51,46.92 L720.09,46.92 L720.67,46.92 L721.25,46.92 L721.83,46.92 L722.41,46.92 L722.99,46.92 L723.57,46.92 L724.16,46.91 L724.74,46.91 L725.32,46.91 L725.9,46.91 L726.48,46.91 L727.06,46.91 L727.64,46.91 L728.22,46.91 L728.8,46.91 L729.38,46.91 L729.97,46.91 L730.55,46.91 L731.13,46.91 L731.71,46.91 L732.29,46.91 L732.87,46.91 L733.45,46.9 L734.03,46.9 L734.61,46.9 L735.19,46.9 L735.78,46.9 L736.36,46.9 L736.94,46.9 L737.52,46.9 L738.1,46.9 L738.68,46.9 L739.26,46.9 L739.84,46.9 L740.42,46.9 L741,46.9 L741.59,46.9 L742.17,46.9 L742.75,46.9 L743.33,46.9 L743.91,46.9 L744.49,46.9 L745.07,46.9 L745.65,46.9 L746.23,46.9 L746.81,46.9 L747.4,46.9 L747.98,46.9 L748.56,46.9 L749.14,46.9 L749.72,46.9 L750.3,46.9 L750.88,46.9 L751.46,46.9 L752.04,46.9 L752.62,46.9 L753.21,46.9 L753.79,46.9 L754.37,46.9 L754.95,46.9 L755.53,46.9 L798.5,46.9" fill="none" stroke="#000" stroke-width="1.1"/>
<path d="M579,247 L579,26.7 L798.5,26.7 L798.5,161" fill="none" stroke="#333333" stroke-width="1.4"/>
<line x1="578.35" y1="247" x2="799.15" y2="247" stroke="#333333" stroke-width="1.3"/>
<line x1="637.1" y1="247" x2="637.1" y2="244.5" stroke="#333333" stroke-width="1"/>
<line x1="637.1" y1="26.7" x2="637.1" y2="29.2" stroke="#333333" stroke-width="1"/>
<line x1="695.2" y1="247" x2="695.2" y2="244.5" stroke="#333333" stroke-width="1"/>
<line x1="695.2" y1="26.7" x2="695.2" y2="29.2" stroke="#333333" stroke-width="1"/>
<line x1="753.3" y1="247" x2="753.3" y2="244.5" stroke="#333333" stroke-width="1"/>
<line x1="753.3" y1="26.7" x2="753.3" y2="29.2" stroke="#333333" stroke-width="1"/>
<line x1="579" y1="206.98" x2="581.5" y2="206.98" stroke="#333333" stroke-width="1"/>
<line x1="579" y1="166.96" x2="581.5" y2="166.96" stroke="#333333" stroke-width="1"/>
<line x1="579" y1="126.94" x2="581.5" y2="126.94" stroke="#333333" stroke-width="1"/>
<line x1="798.5" y1="126.94" x2="796" y2="126.94" stroke="#333333" stroke-width="1"/>
<line x1="579" y1="86.92" x2="581.5" y2="86.92" stroke="#333333" stroke-width="1"/>
<line x1="798.5" y1="86.92" x2="796" y2="86.92" stroke="#333333" stroke-width="1"/>
<line x1="579" y1="46.9" x2="581.5" y2="46.9" stroke="#333333" stroke-width="1"/>
<line x1="798.5" y1="46.9" x2="796" y2="46.9" stroke="#333333" stroke-width="1"/>
<circle cx="672.6" cy="46.9" r="3.1" fill="#00ff00" stroke="#000" stroke-width="0.7"/>
<circle cx="679.6" cy="46.9" r="3.1" fill="#00ff00" stroke="#000" stroke-width="0.7"/>
<path d="M687.1,51.3 L690.8,45.72 L683.4,45.72Z" fill="#0000ff" stroke="#000" stroke-width="0.7"/>
<circle cx="697.6" cy="46.9" r="3.1" fill="#00ff00" stroke="#000" stroke-width="0.7"/>
<path d="M714.8,43.8 L718.5,49.38 L711.1,49.38Z" fill="#ffff00" stroke="#000" stroke-width="0.7"/>
<circle cx="727.4" cy="46.9" r="3.1" fill="#00ff00" stroke="#000" stroke-width="0.7"/>
<circle cx="734.4" cy="46.9" r="3.1" fill="#00ff00" stroke="#000" stroke-width="0.7"/>
<path d="M758.9,43.6 L758.9,50.2 M761.76,45.25 L756.04,48.55 M761.76,48.55 L756.04,45.25" stroke="#111" stroke-width="1.2" fill="none"/><circle cx="758.9" cy="46.9" r="1.7" fill="#111"/>
<path d="M764.5,43.6 L764.5,50.2 M767.36,45.25 L761.64,48.55 M767.36,48.55 L761.64,45.25" stroke="#111" stroke-width="1.2" fill="none"/><circle cx="764.5" cy="46.9" r="1.7" fill="#111"/>
<path d="M794.4,43.6 L794.4,50.2 M797.26,45.25 L791.54,48.55 M797.26,48.55 L791.54,45.25" stroke="#111" stroke-width="1.2" fill="none"/><circle cx="794.4" cy="46.9" r="1.7" fill="#111"/>
<path d="M664.4,58.5 L667,61.1 L664.4,63.7 L661.8,61.1Z" fill="#00ff00" stroke="#000" stroke-width="0.6"/>
<path d="M659.6,73 L663.3,78.58 L655.9,78.58Z" fill="#ffff00" stroke="#000" stroke-width="0.7"/>
<path d="M658.6,88.8 L662.3,83.22 L654.9,83.22Z" fill="#0000ff" stroke="#000" stroke-width="0.7"/>
<path d="M650.6,116.8 L654.3,111.22 L646.9,111.22Z" fill="#0000ff" stroke="#000" stroke-width="0.7"/>
<path d="M639.4,132.2 L643.1,126.62 L635.7,126.62Z" fill="#0000ff" stroke="#000" stroke-width="0.7"/>
<path d="M644.3,138 L648,132.42 L640.6,132.42Z" fill="#0000ff" stroke="#000" stroke-width="0.7"/>
<path d="M642,135.5 L645.7,141.08 L638.3,141.08Z" fill="#ffff00" stroke="#000" stroke-width="0.7"/>
<path d="M642,142.5 L644.6,145.1 L642,147.7 L639.4,145.1Z" fill="#00ff00" stroke="#000" stroke-width="0.6"/>
<path d="M641.1,172.4 L644.8,166.82 L637.4,166.82Z" fill="#0000ff" stroke="#000" stroke-width="0.7"/>
<path d="M636.4,183.8 L640.1,189.38 L632.7,189.38Z" fill="#ffff00" stroke="#000" stroke-width="0.7"/>
<path d="M637.1,193.6 L640.8,199.18 L633.4,199.18Z" fill="#ffff00" stroke="#000" stroke-width="0.7"/>
<path d="M627.9,208.8 L631.6,203.22 L624.2,203.22Z" fill="#0000ff" stroke="#000" stroke-width="0.7"/>
<path d="M628.4,208.5 L632.1,202.92 L624.7,202.92Z" fill="#0000ff" stroke="#000" stroke-width="0.7"/>
<path d="M636.6,208.65 L639.2,211.25 L636.6,213.85 L634,211.25Z" fill="#00ff00" stroke="#000" stroke-width="0.6"/>
<path d="M626.6,230.4 L629.2,233 L626.6,235.6 L624,233Z" fill="#00ff00" stroke="#000" stroke-width="0.6"/>
<circle cx="618.2" cy="241.4" r="2.4" fill="#ff0000" stroke="#000" stroke-width="0.6"/>
<path d="M610.5,244.4 L613.1,247 L610.5,249.6 L607.9,247Z" fill="#00ff00" stroke="#000" stroke-width="0.6"/>
<circle cx="587.3" cy="246.8" r="2.4" fill="#ff0000" stroke="#000" stroke-width="0.6"/>
<circle cx="590.9" cy="244.6" r="2.4" fill="#ff0000" stroke="#000" stroke-width="0.6"/>
<circle cx="595.9" cy="244.6" r="2.4" fill="#ff0000" stroke="#000" stroke-width="0.6"/>
<circle cx="599.4" cy="245" r="2.4" fill="#ff0000" stroke="#000" stroke-width="0.6"/>
<text x="124.1" y="170.8" font-size="13" font-family="'Liberation Serif', serif" stroke="#1a1a1a" stroke-width="0.2" textLength="21.3" lengthAdjust="spacingAndGlyphs">CI =</text>
<line x1="151.6" y1="167.1" x2="228" y2="167.1" stroke="#333" stroke-width="1.1"/>
<text x="188.8" y="164.4" font-size="8" text-anchor="middle" font-family="'Liberation Serif', serif" stroke="#1a1a1a" stroke-width="0.3">1</text>
<text x="152.3" y="177" font-size="8" font-family="'Liberation Serif', serif" fill="#333" stroke="#333" stroke-width="0.3" textLength="35.8" lengthAdjust="spacingAndGlyphs">1+32.83<tspan font-style="italic" font-weight="normal">e</tspan></text>
<text x="188.1" y="173.6" font-size="5.6" font-family="'Liberation Serif', serif" fill="#333" stroke="#333" stroke-width="0.15" textLength="37.1" lengthAdjust="spacingAndGlyphs">−0.09211<tspan font-style="italic">x</tspan></text>
<text x="124.3" y="193.9" font-size="13" font-family="'Liberation Serif', serif" stroke="#1a1a1a" stroke-width="0.2" textLength="57.8" lengthAdjust="spacingAndGlyphs">R<tspan font-size="7.5" dy="-4.8">2</tspan><tspan dy="4.8"> = 0.6296</tspan></text>
<text x="386.75" y="122.4" font-size="13" font-family="'Liberation Serif', serif" stroke="#1a1a1a" stroke-width="0.2" textLength="20.9" lengthAdjust="spacingAndGlyphs">CI =</text>
<line x1="413.4" y1="118.2" x2="478.4" y2="118.2" stroke="#333" stroke-width="1.1"/>
<text x="445.7" y="115.5" font-size="8" text-anchor="middle" font-family="'Liberation Serif', serif" stroke="#1a1a1a" stroke-width="0.3">1</text>
<text x="414.1" y="127.5" font-size="8" font-family="'Liberation Serif', serif" fill="#333" stroke="#333" stroke-width="0.3" textLength="27" lengthAdjust="spacingAndGlyphs">1+1240<tspan font-style="italic" font-weight="normal">e</tspan></text>
<text x="441.1" y="125.1" font-size="5.6" font-family="'Liberation Serif', serif" fill="#333" stroke="#333" stroke-width="0.15" textLength="35.4" lengthAdjust="spacingAndGlyphs">−0.9218<tspan font-style="italic">x</tspan></text>
<text x="388.8" y="146" font-size="13" font-family="'Liberation Serif', serif" stroke="#1a1a1a" stroke-width="0.2" textLength="46.7" lengthAdjust="spacingAndGlyphs">R<tspan font-size="7.5" dy="-4.8">2</tspan><tspan dy="4.8"> = 0.918</tspan></text>
<text x="665.9" y="90.85" font-size="8.2" font-family="'Liberation Sans', sans-serif" textLength="61.5" lengthAdjust="spacingAndGlyphs">CI = 1/(1+2385e</text>
<text x="727.6" y="86.4" font-size="5.6" font-family="'Liberation Sans', sans-serif" textLength="22" lengthAdjust="spacingAndGlyphs">-33.79x</text>
<text x="750.3" y="90.85" font-size="8.2" font-family="'Liberation Sans', sans-serif">)</text>
<text x="666.3" y="108" font-size="8.2" font-family="'Liberation Sans', sans-serif" textLength="44" lengthAdjust="spacingAndGlyphs">R<tspan font-size="5.6" dy="-3.2">2</tspan><tspan dy="3.2"> = 0.9843</tspan></text>
<rect x="691.8" y="103.6" width="95" height="42" fill="#fff"/>
<text x="696" y="120.5" font-size="13" font-family="'Liberation Serif', serif" stroke="#1a1a1a" stroke-width="0.2" textLength="20.25" lengthAdjust="spacingAndGlyphs">CI =</text>
<line x1="722.1" y1="117.3" x2="780" y2="117.3" stroke="#333" stroke-width="1.1"/>
<text x="751.5" y="114.6" font-size="8" text-anchor="middle" font-family="'Liberation Serif', serif" stroke="#1a1a1a" stroke-width="0.3">1</text>
<text x="722.5" y="125.9" font-size="8" font-family="'Liberation Serif', serif" fill="#333" stroke="#333" stroke-width="0.3" textLength="26.8" lengthAdjust="spacingAndGlyphs">1+2188<tspan font-style="italic" font-weight="normal">e</tspan></text>
<text x="749.3" y="124.1" font-size="5.6" font-family="'Liberation Serif', serif" fill="#333" stroke="#333" stroke-width="0.15" textLength="29.45" lengthAdjust="spacingAndGlyphs">−33.79<tspan font-style="italic">x</tspan></text>
<text x="697.9" y="142" font-size="13" font-family="'Liberation Serif', serif" stroke="#1a1a1a" stroke-width="0.2" textLength="50" lengthAdjust="spacingAndGlyphs">R<tspan font-size="7.5" dy="-4.8">2</tspan><tspan dy="4.8"> = 0.9843</tspan></text>
<rect x="651.7" y="161.6" width="160" height="84.3" fill="#fff" stroke="#333" stroke-width="1"/>
<rect x="655" y="164" width="16.7" height="7.1" fill="#bbbbbb" stroke="#666" stroke-width="0.7"/>
<text x="673.6" y="170.1" font-size="7" font-family="'Liberation Sans', sans-serif" textLength="34.3" lengthAdjust="spacingAndGlyphs">Uncertainty</text>
<circle cx="663.6" cy="179" r="2.4" fill="#ff0000" stroke="#000" stroke-width="0.6"/>
<text x="673.6" y="182.4" font-size="7" font-family="'Liberation Sans', sans-serif" textLength="121.4" lengthAdjust="spacingAndGlyphs">75mWcm<tspan font-size="4.8" dy="-3.2">-2</tspan><tspan dy="3.2">, 300s, 22.5Jcm</tspan><tspan font-size="4.8" dy="-3.2">-2</tspan><tspan dy="3.2">, 1mg/kg, N=5</tspan></text>
<path d="M663.6,188.54 L666.2,191.14 L663.6,193.74 L661,191.14Z" fill="#00ff00" stroke="#000" stroke-width="0.6"/>
<text x="673.6" y="194.54" font-size="7" font-family="'Liberation Sans', sans-serif" textLength="115.7" lengthAdjust="spacingAndGlyphs">75mWcm<tspan font-size="4.8" dy="-3.2">-2</tspan><tspan dy="3.2">, 400s, 30Jcm</tspan><tspan font-size="4.8" dy="-3.2">-2</tspan><tspan dy="3.2">, 1mg/kg, N=6</tspan></text>
<path d="M663.6,200.18 L667.3,205.76 L659.9,205.76Z" fill="#ffff00" stroke="#000" stroke-width="0.7"/>
<text x="673.6" y="206.68" font-size="7" font-family="'Liberation Sans', sans-serif" textLength="115.7" lengthAdjust="spacingAndGlyphs">75mWcm<tspan font-size="4.8" dy="-3.2">-2</tspan><tspan dy="3.2">, 600s, 45Jcm</tspan><tspan font-size="4.8" dy="-3.2">-2</tspan><tspan dy="3.2">, 1mg/kg, N=6</tspan></text>
<path d="M663.6,218.52 L667.3,212.94 L659.9,212.94Z" fill="#0000ff" stroke="#000" stroke-width="0.7"/>
<text x="673.6" y="218.82" font-size="7" font-family="'Liberation Sans', sans-serif" textLength="116.1" lengthAdjust="spacingAndGlyphs">75mWcm<tspan font-size="4.8" dy="-3.2">-2</tspan><tspan dy="3.2">, 666s, 50Jcm</tspan><tspan font-size="4.8" dy="-3.2">-2</tspan><tspan dy="3.2">, 1mg/kg, N=7</tspan></text>
<circle cx="663.6" cy="227.56" r="3.1" fill="#00ff00" stroke="#000" stroke-width="0.7"/>
<text x="673.6" y="230.96" font-size="7" font-family="'Liberation Sans', sans-serif" textLength="119.9" lengthAdjust="spacingAndGlyphs">150mWcm<tspan font-size="4.8" dy="-3.2">-2</tspan><tspan dy="3.2">, 467s, 70Jcm</tspan><tspan font-size="4.8" dy="-3.2">-2</tspan><tspan dy="3.2">, 1mg/kg, N=5</tspan></text>
<path d="M663.6,236.4 L663.6,243 M666.46,238.05 L660.74,241.35 M666.46,241.35 L660.74,238.05" stroke="#111" stroke-width="1.2" fill="none"/><circle cx="663.6" cy="239.7" r="1.7" fill="#111"/>
<text x="673.6" y="243.1" font-size="7" font-family="'Liberation Sans', sans-serif" textLength="123.6" lengthAdjust="spacingAndGlyphs">150mWcm<tspan font-size="4.8" dy="-3.2">-2</tspan><tspan dy="3.2">, 667s, 100Jcm</tspan><tspan font-size="4.8" dy="-3.2">-2</tspan><tspan dy="3.2">, 1mg/kg, N=5</tspan></text>
<text x="21.6" y="14.8" font-size="17" text-anchor="start" font-family="'Liberation Serif', serif" textLength="17.9" lengthAdjust="spacingAndGlyphs" >(a)</text>
<text x="302" y="12.8" font-size="16" text-anchor="start" font-family="'Liberation Serif', serif" textLength="19.1" lengthAdjust="spacingAndGlyphs" >(b)</text>
<text x="579.4" y="14.8" font-size="17" text-anchor="start" font-family="'Liberation Serif', serif" textLength="17.9" lengthAdjust="spacingAndGlyphs" >(c)</text>
<text x="92.6" y="18.5" font-size="10" text-anchor="start" font-family="'Liberation Sans', sans-serif" textLength="91.4" lengthAdjust="spacingAndGlyphs" >Cure Index VS Fluence</text>
<text x="29.3" y="251.6" font-size="10.6" text-anchor="end" font-family="'Liberation Sans', sans-serif" >0</text>
<text x="29.3" y="213.48" font-size="10.6" text-anchor="end" font-family="'Liberation Sans', sans-serif" >0.2</text>
<text x="29.3" y="175.36" font-size="10.6" text-anchor="end" font-family="'Liberation Sans', sans-serif" >0.4</text>
<text x="29.3" y="137.24" font-size="10.6" text-anchor="end" font-family="'Liberation Sans', sans-serif" >0.6</text>
<text x="29.3" y="99.12" font-size="10.6" text-anchor="end" font-family="'Liberation Sans', sans-serif" >0.8</text>
<text x="29.3" y="61" font-size="10.6" text-anchor="end" font-family="'Liberation Sans', sans-serif" >1</text>
<text x="283.4" y="251.5" font-size="11" text-anchor="end" font-family="'Liberation Sans', sans-serif" >0</text>
<text x="283.4" y="211.48" font-size="11" text-anchor="end" font-family="'Liberation Sans', sans-serif" >0.2</text>
<text x="283.4" y="171.46" font-size="11" text-anchor="end" font-family="'Liberation Sans', sans-serif" >0.4</text>
<text x="283.4" y="131.44" font-size="11" text-anchor="end" font-family="'Liberation Sans', sans-serif" >0.6</text>
<text x="283.4" y="91.42" font-size="11" text-anchor="end" font-family="'Liberation Sans', sans-serif" >0.8</text>
<text x="283.4" y="51.4" font-size="11" text-anchor="end" font-family="'Liberation Sans', sans-serif" >1</text>
<text x="576.6" y="251.5" font-size="11" text-anchor="end" font-family="'Liberation Sans', sans-serif" >0</text>
<text x="576.6" y="211.48" font-size="11" text-anchor="end" font-family="'Liberation Sans', sans-serif" >0.2</text>
<text x="576.6" y="171.46" font-size="11" text-anchor="end" font-family="'Liberation Sans', sans-serif" >0.4</text>
<text x="576.6" y="131.44" font-size="11" text-anchor="end" font-family="'Liberation Sans', sans-serif" >0.6</text>
<text x="576.6" y="91.42" font-size="11" text-anchor="end" font-family="'Liberation Sans', sans-serif" >0.8</text>
<text x="576.6" y="51.4" font-size="11" text-anchor="end" font-family="'Liberation Sans', sans-serif" >1</text>
<text x="31.5" y="261.2" font-size="10.8" text-anchor="middle" font-family="'Liberation Sans', sans-serif" >0</text>
<text x="91.1" y="261.2" font-size="10.8" text-anchor="middle" font-family="'Liberation Sans', sans-serif" >50</text>
<text x="150.7" y="261.2" font-size="10.8" text-anchor="middle" font-family="'Liberation Sans', sans-serif" >100</text>
<text x="210.3" y="261.2" font-size="10.8" text-anchor="middle" font-family="'Liberation Sans', sans-serif" >150</text>
<text x="285.2" y="260.4" font-size="11" text-anchor="middle" font-family="'Liberation Sans', sans-serif" >0</text>
<text x="349.97" y="260.4" font-size="11" text-anchor="middle" font-family="'Liberation Sans', sans-serif" >10</text>
<text x="414.74" y="260.4" font-size="11" text-anchor="middle" font-family="'Liberation Sans', sans-serif" >20</text>
<text x="479.51" y="260.4" font-size="11" text-anchor="middle" font-family="'Liberation Sans', sans-serif" >30</text>
<text x="578.5" y="260.8" font-size="11" text-anchor="middle" font-family="'Liberation Sans', sans-serif" >0</text>
<text x="636.6" y="260.8" font-size="11" text-anchor="middle" font-family="'Liberation Sans', sans-serif" >0.2</text>
<text x="694.7" y="260.8" font-size="11" text-anchor="middle" font-family="'Liberation Sans', sans-serif" >0.4</text>
<text x="752.8" y="260.8" font-size="11" text-anchor="middle" font-family="'Liberation Sans', sans-serif" >0.6</text>
<text x="102" y="277.6" font-size="11" font-family="'Liberation Sans', sans-serif" textLength="67.8" lengthAdjust="spacingAndGlyphs">Fluence, J/cm</text>
<text x="170.3" y="270.8" font-size="7.2" text-anchor="start" font-family="'Liberation Sans', sans-serif" >2</text>
<text x="346" y="276.7" font-size="11" font-family="'Liberation Sans', sans-serif" textLength="99" lengthAdjust="spacingAndGlyphs">PDT dose, μMJ/cm</text>
<text x="445.6" y="271" font-size="7.2" text-anchor="start" font-family="'Liberation Sans', sans-serif" >2</text>
<text x="660.3" y="273.3" font-size="10.5" font-family="'Liberation Sans', sans-serif" textLength="27.2" lengthAdjust="spacingAndGlyphs">[ROS]</text>
<text x="688.4" y="279" font-size="7.5" font-family="'Liberation Sans', sans-serif" textLength="8.5" lengthAdjust="spacingAndGlyphs">rx</text>
<text x="700.6" y="273.3" font-size="10.5" font-family="'Liberation Sans', sans-serif" textLength="16.9" lengthAdjust="spacingAndGlyphs">μM</text>
<text transform="translate(10.2,161.25) rotate(-90)" font-size="12" font-family="'Liberation Sans', sans-serif" textLength="25" lengthAdjust="spacingAndGlyphs">Cure</text>
<text transform="translate(10.2,131.25) rotate(-90)" font-size="12" font-family="'Liberation Sans', sans-serif" textLength="23.75" lengthAdjust="spacingAndGlyphs">Index</text>
<text transform="translate(261.2,165.5) rotate(-90)" font-size="12" font-family="'Liberation Sans', sans-serif" textLength="26.75" lengthAdjust="spacingAndGlyphs">Cure</text>
<text transform="translate(261.2,134.5) rotate(-90)" font-size="12" font-family="'Liberation Sans', sans-serif" textLength="25" lengthAdjust="spacingAndGlyphs">Index</text>
<text transform="translate(556.1,165.5) rotate(-90)" font-size="12" font-family="'Liberation Sans', sans-serif" textLength="26.75" lengthAdjust="spacingAndGlyphs">Cure</text>
<text transform="translate(556.1,134.5) rotate(-90)" font-size="12" font-family="'Liberation Sans', sans-serif" textLength="25" lengthAdjust="spacingAndGlyphs">Index</text>
</svg></body></html>
